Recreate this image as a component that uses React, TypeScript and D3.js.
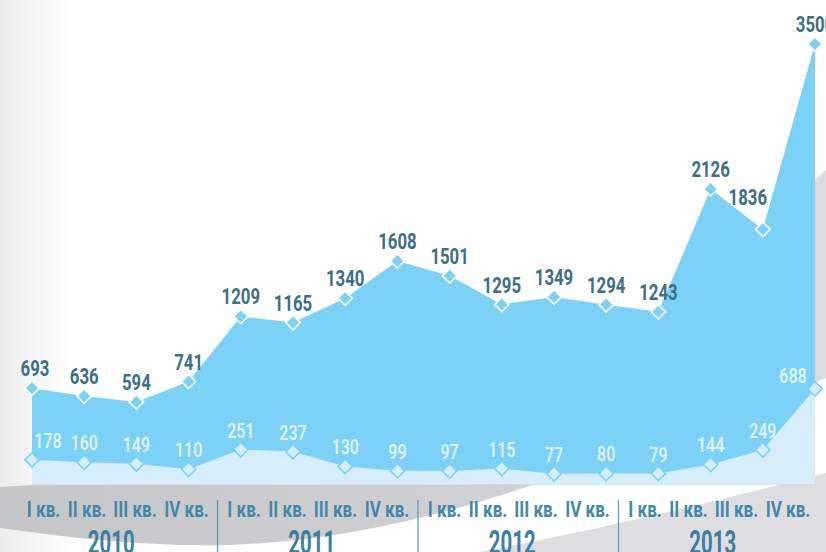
import React from 'react';
import * as d3 from 'd3';

const years = ['2010', '2011', '2012', '2013'];
const quarters = ['I кв.', 'II кв.', 'III кв.', 'IV кв.'];
const totalValues = [693, 636, 594, 741, 1209, 1165, 1340, 1608, 1501, 1295, 1349, 1294, 1243, 2126, 1836, 3500];
const partValues = [178, 160, 149, 110, 251, 237, 130, 99, 97, 115, 77, 80, 79, 144, 249, 688];

const W = 826;
const H = 552;
const FONT = 'Roboto, "DejaVu Sans", sans-serif';

// layout only
const upperNudge: Record<number, [number, number]> = { 0: [3, 0], 14: [-15, -12] };
const lowerNudge: Record<number, [number, number]> = { 0: [16, 0], 15: [-22, 6] };
const quarterWidths = [33, 35, 42, 42];
const quarterGap = 9.5;

function Cond({ x, y, sx, children, ...rest }: any) {
  return (
    <g transform={`translate(${x},${y}) scale(${sx},1)`}>
      <text x={0} y={0} textAnchor="middle" {...rest}>
        {children}
      </text>
    </g>
  );
}

export default function App() {
  const periods = years.flatMap((yr) => quarters.map((q) => `${q} ${yr}`));
  const x = d3.scalePoint<string>().domain(periods).range([32, 815]);
  const y = d3.scaleLinear().domain([0, 2126, 3500]).range([484.5, 189, 44]);
  const yearBand = d3.scaleBand<string>().domain(years).range([17, 819]);

  const idx = periods.map((_, i) => i);
  const upperArea = d3
    .area<number>()
    .x((i) => x(periods[i]) as number)
    .y0(y(0))
    .y1((i) => y(totalValues[i]));
  const lowerArea = d3
    .area<number>()
    .x((i) => x(periods[i]) as number)
    .y0(y(0))
    .y1((i) => y(partValues[i]));
  const diamond = d3.symbol().type(d3.symbolSquare).size(104)();

  const totalQ = d3.sum(quarterWidths) + quarterGap * (quarterWidths.length - 1);
  const qOffsets: number[] = [];
  let acc = -totalQ / 2;
  quarterWidths.forEach((w) => {
    qOffsets.push(acc + w / 2);
    acc += w + quarterGap;
  });

  return (
    <svg
      width={W}
      height={H}
      style={{ position: 'fixed', left: 0, top: 0, display: 'block' }}
      fontFamily={FONT}
    >
      <defs>
        <linearGradient id="leftShade" x1="0" x2="1" y1="0" y2="0">
          <stop offset="0" stopColor="#ececec" />
          <stop offset="1" stopColor="#ffffff" />
        </linearGradient>
        <linearGradient id="bandA" x1="0" x2="1" y1="0" y2="0">
          <stop offset="0" stopColor="#c5c6c8" />
          <stop offset="0.55" stopColor="#d0d0d2" />
          <stop offset="1" stopColor="#dcdcde" />
        </linearGradient>
      </defs>
      <rect x={0} y={0} width={W} height={H} fill="#ffffff" />
      <rect x={0} y={0} width={70} height={H} fill="url(#leftShade)" />
      {/* background swooshes */}
      <path
        d="M826,170 L470,485 L32,485 L0,487 L0,528 C70,538 150,547 230,545 C330,541 420,522 520,489 C640,450 740,414 826,378 Z"
        fill="url(#bandA)"
      />
      <path d="M826,473 C720,500 620,525 480,552 L826,552 Z" fill="#dedee0" />

      {/* areas */}
      <path d={upperArea(idx) || ''} fill="#7bd2f6" />
      <path d={lowerArea(idx) || ''} fill="#d6eefb" />

      {/* lower diamonds */}
      {idx.map((i) => (
        <path
          key={'ld' + i}
          d={diamond}
          transform={`translate(${x(periods[i])},${y(partValues[i])}) rotate(45)`}
          fill="#d6eefb"
          stroke="#7bd2f6"
          strokeWidth={1.6}
        />
      ))}
      {/* upper diamonds */}
      {idx.map((i) => (
        <path
          key={'ud' + i}
          d={diamond}
          transform={`translate(${x(periods[i])},${y(totalValues[i])}) rotate(45)`}
          fill="#7bd2f6"
          stroke="#ffffff"
          strokeWidth={1.6}
        />
      ))}

      {/* upper labels */}
      {idx.map((i) => {
        const [dx, dy] = upperNudge[i] || [0, 0];
        return (
          <Cond
            key={'ul' + i}
            x={(x(periods[i]) as number) + dx}
            y={y(totalValues[i]) - 12 + dy}
            sx={0.745}
            fontSize={22.5}
            fontWeight={700}
            fill="#3d6f87"
          >
            {String(totalValues[i])}
          </Cond>
        );
      })}
      {/* lower labels */}
      {idx.map((i) => {
        const [dx, dy] = lowerNudge[i] || [0, 0];
        return (
          <Cond
            key={'ll' + i}
            x={(x(periods[i]) as number) + dx}
            y={y(partValues[i]) - 12 + dy}
            sx={0.78}
            fontSize={20.5}
            fontWeight={500}
            fill="#e4f4fd"
          >
            {String(partValues[i])}
          </Cond>
        );
      })}

      {/* axis */}
      {years.map((yr, k) => {
        const x0 = yearBand(yr) as number;
        const bw = yearBand.bandwidth();
        const cx = x0 + bw / 2;
        return (
          <g key={'yr' + yr}>
            {k > 0 && (
              <line x1={x0} x2={x0} y1={500} y2={H} stroke="#5b9dbe" strokeWidth={1.3} />
            )}
            {quarters.map((q, j) => (
              <Cond
                key={q}
                x={cx + qOffsets[j]}
                y={517}
                sx={0.76}
                fontSize={22.5}
                fontWeight={700}
                fill="#4189aa"
              >
                {q}
              </Cond>
            ))}
            <Cond
              x={cx - 6}
              y={554}
              sx={0.6}
              fontSize={34}
              fontWeight={700}
              fill="#3a80a2"
            >
              {yr}
            </Cond>
          </g>
        );
      })}
    </svg>
  );
}
